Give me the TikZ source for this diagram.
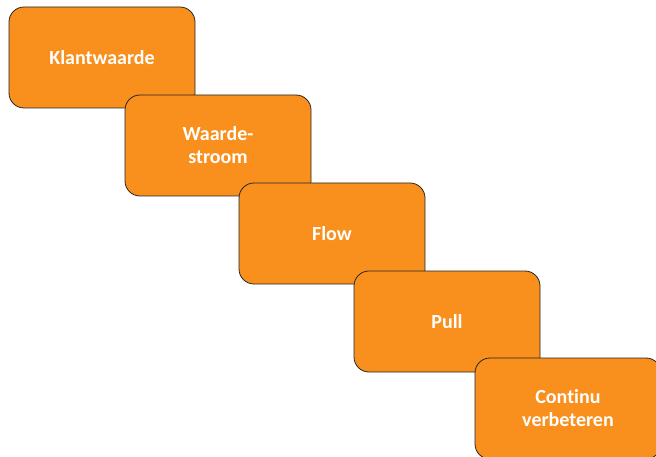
\documentclass[tikz,border=0pt]{standalone}
\usepackage{fontspec}
\setmainfont{Carlito}[Ligatures=NoCommon]
\usetikzlibrary{positioning}
\definecolor{lorange}{HTML}{F98F1D}

\begin{document}
\begin{tikzpicture}[x=1pt,y=-1pt]
    \useasboundingbox (0,0) rectangle (656,457);
    \begin{scope}[every node/.style={rectangle,rounded corners=15pt,draw=black!85,fill=lorange,
        line width=0.8pt,minimum width=186pt,minimum height=101pt,inner sep=0pt,
        align=center,text=white,font=\fontsize{20}{23}\selectfont\bfseries}]
        \node (kw) at (102,57.5) {Klantwaarde};
        \node (ws) at (218,145.5) {Waarde-\\stroom};
        \node (fl) at (332,233.5) {Flow};
        \node (pl) at (447,321.5) {Pull};
        \node (cv) at (568,408.5) {Continu\\verbeteren};
    \end{scope}
\end{tikzpicture}
\end{document}
